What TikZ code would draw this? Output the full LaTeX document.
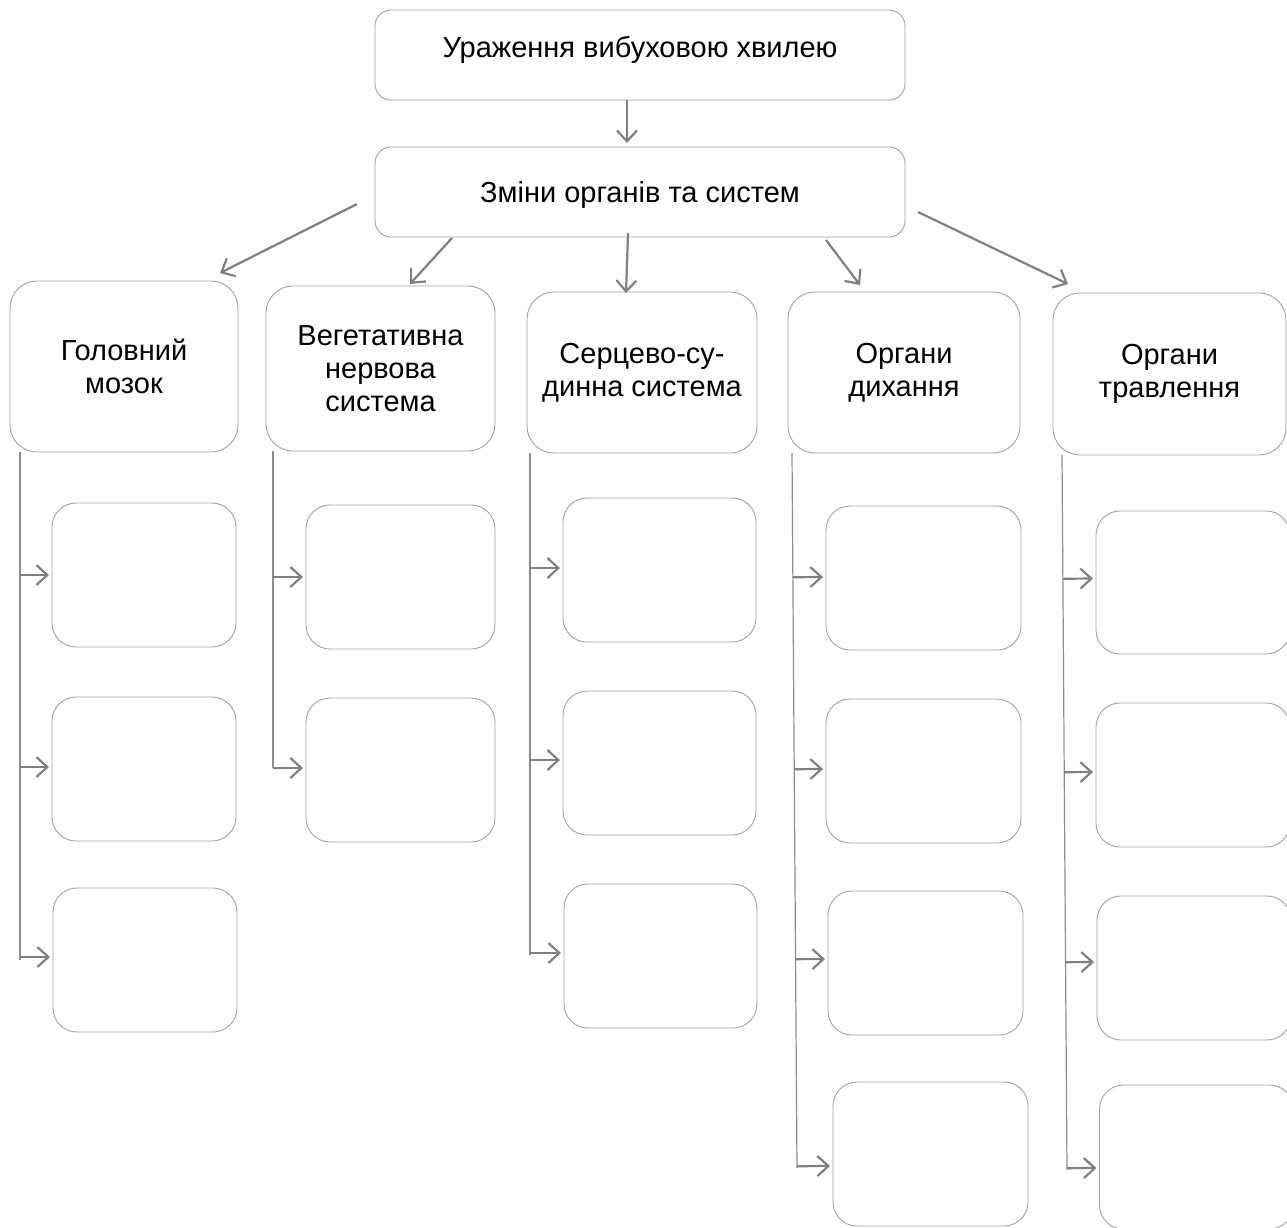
\documentclass[tikz,border=0pt]{standalone}
\usepackage{fontspec}
\setmainfont{Liberation Sans}
\usetikzlibrary{arrows.meta,calc}
\definecolor{boxline}{HTML}{A3A3A3}
\definecolor{arrowgray}{HTML}{808080}
\definecolor{linegray}{HTML}{8C8C8C}
\begin{document}
\begin{tikzpicture}[x=1pt,y=-1pt,
  base/.style={draw=boxline, line width=0.9pt, fill=white, inner sep=0pt, outer sep=0pt,
    font=\fontsize{29}{33}\selectfont, align=center},
  topbox/.style={base, rounded corners=16pt, minimum width=530pt, minimum height=90pt},
  headbox/.style={base, rounded corners=27pt},
  childbox/.style={base, rounded corners=24pt, minimum height=144pt},
  arr/.style={draw=arrowgray, line width=2.2pt, -{Straight Barb[length=11pt,width=20pt,line width=2.2pt]}},
  vline/.style={draw=linegray, line width=1.2pt}
]
\useasboundingbox (0,0) rectangle (1287,1227);

% top boxes
\node[topbox, text height=21pt, text depth=16pt] (top) at (640,55) {Ураження вибуховою хвилею};
\node[topbox, text height=21pt, text depth=0pt] (sys) at (640,192) {Зміни органів та систем};

% column headers
\node[headbox, minimum width=228pt, minimum height=171pt] (h1) at (124,366.5) {Головний\\мозок};
\node[headbox, minimum width=229pt, minimum height=165pt] (h2) at (380.5,368.5) {Вегетативна\\нервова\\система};
\node[headbox, minimum width=230pt, minimum height=161pt] (h3) at (642,372.5) {Серцево-су-\\динна система};
\node[headbox, minimum width=232pt, minimum height=161pt] (h4) at (904,372.5) {Органи\\дихання};
\node[headbox, minimum width=233pt, minimum height=162pt] (h5) at (1169.5,374) {Органи\\травлення};

% child boxes
\node[childbox, minimum width=184pt] (c11) at (144,575) {};
\node[childbox, minimum width=184pt] (c12) at (144,769) {};
\node[childbox, minimum width=184pt] (c13) at (145,960) {};
\node[childbox, minimum width=189pt] (c21) at (400.5,577) {};
\node[childbox, minimum width=189pt] (c22) at (400.5,770) {};
\node[childbox, minimum width=193pt] (c31) at (659.5,570) {};
\node[childbox, minimum width=193pt] (c32) at (659.5,763) {};
\node[childbox, minimum width=193pt] (c33) at (660.5,956) {};
\node[childbox, minimum width=195pt] (c41) at (923.5,578) {};
\node[childbox, minimum width=195pt] (c42) at (923.5,771) {};
\node[childbox, minimum width=195pt] (c43) at (925.5,963) {};
\node[childbox, minimum width=195pt] (c44) at (930.5,1154) {};
\node[childbox, minimum width=194pt, minimum height=143pt] (c51) at (1193,582.5) {};
\node[childbox, minimum width=194pt] (c52) at (1193,775) {};
\node[childbox, minimum width=194pt] (c53) at (1194,968) {};
\node[childbox, minimum width=194pt] (c54) at (1196.5,1157) {};

% vertical rails
\coordinate (v1t) at (20,452);   \coordinate (v1b) at (20,960);
\coordinate (v2t) at (273,451);  \coordinate (v2b) at (273,768);
\coordinate (v3t) at (530,453);  \coordinate (v3b) at (530,955);
\coordinate (v4t) at (792,453);  \coordinate (v4b) at (797,1168);
\coordinate (v5t) at (1062,455); \coordinate (v5b) at (1067,1170);
\foreach \v in {1,...,5} {\draw[vline] (v\v t) -- (v\v b);}

% top arrows
\draw[arr, shorten >=4pt] ([xshift=-13pt]top.south) -- ([xshift=-13pt]sys.north);
\draw[arr] ([shift={(-18,12)}]sys.west) -- ([shift={(-18,-8)}]h1.north east);
\draw[arr] ([shift={(77,1)}]sys.south west) -- ([shift={(29.5,-2)}]h2.north);
\draw[arr] ([shift={(-12,-4)}]sys.south) -- ([shift={(-16,1)}]h3.north);
\draw[arr] ([shift={(-79,3)}]sys.south east) -- ([shift={(-44,-7)}]h4.north);
\draw[arr] ([shift={(13,20)}]sys.east) -- ([shift={(15,-9)}]h5.north west);

% rail arrows
\foreach \c/\v/\dy in {c11/1/0, c12/1/-2, c13/1/-3,
                       c21/2/0, c22/2/-2,
                       c31/3/-2, c32/3/-3, c33/3/-3,
                       c41/4/-1, c42/4/-2, c43/4/-4, c44/4/12,
                       c51/5/-4, c52/5/-3, c53/5/-6, c54/5/11} {
  \draw[arr, shorten >=3pt] ($(v\v t)!([yshift=-\dy pt]\c.west)!(v\v b)$) -- ([yshift=-\dy pt]\c.west);
}
\end{tikzpicture}
\end{document}
